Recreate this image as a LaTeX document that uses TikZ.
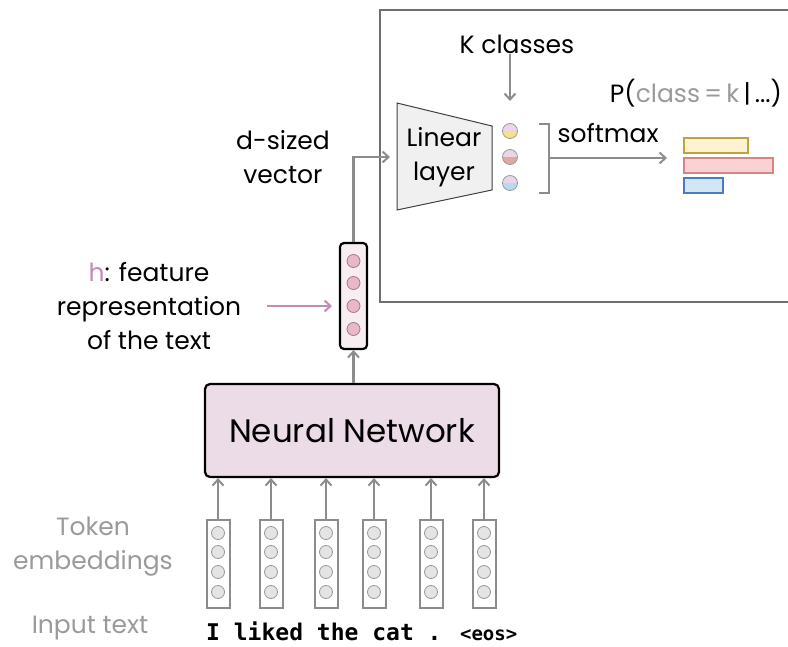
\documentclass[tikz,border=0pt]{standalone}
\usepackage{fontspec}
\setmainfont{Poppins}
\newfontfamily\tokfont{DejaVu Sans Mono}
\usetikzlibrary{arrows.meta,calc}

\definecolor{flowgray}{HTML}{8C8C8C}
\definecolor{panelgray}{HTML}{6E6E6E}
\definecolor{labelgray}{HTML}{9A9A9A}
\definecolor{hpink}{HTML}{C48AB6}
\definecolor{nnfill}{HTML}{ECDCE8}
\definecolor{hfill}{HTML}{F8EEF2}
\definecolor{hdot}{HTML}{E8B8C8}
\definecolor{hdotline}{HTML}{A8788A}
\definecolor{tokdot}{HTML}{E4E4E4}
\definecolor{tokdotline}{HTML}{9A9A9A}
\definecolor{halftop}{HTML}{EAD6E8}
\definecolor{halfyellow}{HTML}{F6E08E}
\definecolor{halfred}{HTML}{E2A8A2}
\definecolor{halfblue}{HTML}{B6DAF0}
\definecolor{baryellowfill}{HTML}{FDF3D2}
\definecolor{baryellowline}{HTML}{C2A23A}
\definecolor{barredfill}{HTML}{F8D2D4}
\definecolor{barredline}{HTML}{D88482}
\definecolor{barbluefill}{HTML}{D2E6F4}
\definecolor{barblueline}{HTML}{4A7CC2}
\definecolor{linfill}{HTML}{F0F0F0}

\begin{document}
\begin{tikzpicture}[x=1pt,y=-1pt,
  flow/.style={draw=flowgray,line width=2.2pt,
    -{Straight Barb[length=6pt,width=11pt,line width=2pt]}},
  hflow/.style={draw=hpink,line width=2.2pt,
    -{Straight Barb[length=6pt,width=11pt,line width=2pt]}},
  lbl/.style={font=\fontsize{25}{34}\selectfont,align=center,inner sep=0pt},
  greylbl/.style={lbl,text=labelgray},
  tokcol/.style={draw=flowgray,line width=2pt,fill=white,
    minimum width=23pt,minimum height=88pt,inner sep=0pt},
  tokdotstyle/.style={circle,draw=tokdotline,fill=tokdot,line width=0.8pt,
    minimum size=13pt,inner sep=0pt},
  hdotstyle/.style={circle,draw=hdotline,fill=hdot,line width=0.8pt,
    minimum size=13pt,inner sep=0pt},
  word/.style={font=\tokfont\bfseries\fontsize{23}{23}\selectfont,inner sep=0pt},
  bar/.style={line width=2pt}
]
\useasboundingbox (0,0) rectangle (788,647);

% classifier panel (open on the right)
\draw[panelgray,line width=1.5pt] (792,10) -- (380,10) -- (380,302) -- (792,302);

% linear layer
\draw[draw=black!75,fill=linfill,line width=1pt]
  (397,103) -- (492,126) -- (492,190) -- (397,210) -- cycle;
\node[lbl] (lin) at (444,157) {Linear\\layer};
\coordinate (linin) at (390,157);

% K classes
\node[lbl] (kcls) at (517,44) {K classes};
\coordinate (kin) at (510,101);
\draw[flow] (kcls.south -| kin) -- (kin);

% logits as half-coloured dots
\foreach \n/\yy/\col in {1/131/halfyellow,2/157/halfred,3/183/halfblue}{
  \node[circle,minimum size=15pt,inner sep=0pt] (logit\n) at (510,\yy) {};
  \begin{scope}
    \clip (logit\n.center) circle[radius=7.5pt];
    \fill[halftop] ($(logit\n.center)+(-9,-9)$) rectangle ($(logit\n.center)+(9,0)$);
    \fill[\col] ($(logit\n.center)+(-9,0)$) rectangle ($(logit\n.center)+(9,9)$);
  \end{scope}
  \draw[tokdotline,line width=0.8pt] (logit\n.center) circle[radius=7.5pt];
}

% softmax bracket and arrow
\draw[flowgray,line width=2pt] (539,124) -- (549,124) -- (549,193) -- (539,193);
\coordinate (brk) at (549,158);
\coordinate (probs) at (667,158);
\draw[flow] (brk) -- (probs);
\node[lbl] (smax) at (608,133) {softmax};
\node[lbl] (pcls) at (696,93) {P(\textcolor{labelgray}{class\,=\,k}\,|\,...)};

% class probabilities
\draw[bar,draw=baryellowline,fill=baryellowfill] (684,138) rectangle (748,153);
\draw[bar,draw=barredline,fill=barredfill] (684,158) rectangle (773,173);
\draw[bar,draw=barblueline,fill=barbluefill] (684,178) rectangle (723,193);

% feature vector h
\node[draw=black,line width=2.2pt,fill=hfill,rounded corners=4pt,
  minimum width=27pt,minimum height=106pt,inner sep=0pt] (hvec) at (353.5,296) {};
\foreach \n/\yy in {1/261,2/283,3/306,4/329}
  \node[hdotstyle] (hd\n) at (353.5,\yy) {};
\draw[flow] (hvec.north) |- (linin);
\node[lbl] (dvec) at (283,157) {d-sized\\vector};

\node[lbl] (hlbl) at (149,306) {\textcolor{hpink}{h}: feature\\representation\\of the text};
\coordinate (hpt) at (332,306);
\draw[hflow] (267,306) -- (hpt);

% neural network
\node[draw=black,line width=2.2pt,fill=nnfill,rounded corners=5pt,
  minimum width=294pt,minimum height=93pt,inner sep=0pt,
  font=\fontsize{32.5}{33}\selectfont] (nn) at (352,430.5) {Neural Network};
\draw[flow] (nn.north -| hvec) -- (hvec.south);

% token embeddings
\foreach \n/\xx in {1/218,2/271,3/326,4/374,5/431,6/484}{
  \node[tokcol] (tok\n) at (\xx,564) {};
  \foreach \k/\yy in {1/533,2/552,3/572,4/592}
    \node[tokdotstyle] (tok\n d\k) at (\xx,\yy) {};
  \draw[flow] (tok\n.north) -- (tok\n.north |- nn.south);
}

% input sentence
\node[word,anchor=base west] (sent) at (206,640)
  {I liked the cat . {\fontsize{19}{19}\selectfont<eos>}};

% row labels
\node[greylbl] (tokemb) at (93,547) {Token\\embeddings};
\node[greylbl] (intext) at (90,628) {Input text};
\end{tikzpicture}
\end{document}
